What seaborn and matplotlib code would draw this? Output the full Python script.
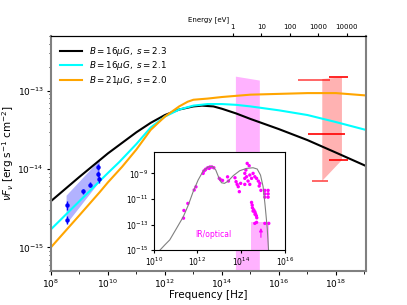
import numpy as np
import pandas as pd
import seaborn as sns
import matplotlib
matplotlib.use("Agg")
import matplotlib.pyplot as plt
from matplotlib.ticker import FixedLocator, FixedFormatter, NullLocator, NullFormatter

# model curves, log10(nu [Hz]) and log10(nuFnu)
lf_black = [8.0, 9.0, 10.0, 11.0, 11.5, 12.0, 12.5, 13.0, 13.3, 13.7, 14.0, 14.5,
            15.0, 16.0, 17.0, 18.0, 19.05]
lF_black = [-14.41, -14.1, -13.8, -13.53, -13.41, -13.31, -13.24, -13.2, -13.19, -13.2,
            -13.23, -13.29, -13.36, -13.49, -13.63, -13.79, -13.96]

lf_cyan = [8.0, 9.0, 10.0, 10.4, 11.0, 11.5, 12.0, 12.5, 13.0, 13.5, 14.0, 14.5,
           15.0, 16.0, 17.0, 18.0, 19.05]
lF_cyan = [-14.77, -14.41, -14.05, -13.91, -13.68, -13.47, -13.33, -13.24, -13.19,
           -13.17, -13.17, -13.18, -13.2, -13.25, -13.31, -13.4, -13.5]

lf_orange = [8.0, 9.0, 9.7, 10.0, 10.5, 11.0, 11.5, 12.0, 12.5, 12.8, 13.0, 13.5,
             14.0, 15.0, 16.0, 17.0, 18.0, 19.05]
lF_orange = [-15.0, -14.59, -14.3, -14.17, -13.97, -13.75, -13.5, -13.33, -13.2,
             -13.14, -13.115, -13.1, -13.08, -13.05, -13.04, -13.03, -13.03, -13.06]

labels = [r"$B = 16\mu G,\ s = 2.3$", r"$B = 16\mu G,\ s = 2.1$", r"$B = 21\mu G,\ s = 2.0$"]

# radio points
lf_radio = [8.55, 8.58, 9.13, 9.37, 9.66, 9.66, 9.69]
lF_radio = [-14.65, -14.46, -14.28, -14.2, -13.97, -14.06, -14.13]
radio_err = [0.05, 0.05, 0.03, 0.03, 0.04, 0.04, 0.04]
# radio spectral-index band (quadrilateral)
radio_band_lf = [8.55, 9.72, 9.72, 8.55]
radio_band_lF = [-14.34, -13.885, -14.16, -14.705]

# IR/optical band
opt_lf = [14.49, 15.33]
opt_top = [-12.82, -12.87]

# X-ray band
xray_band_lf = [17.52, 18.21, 18.21, 17.52]
xray_band_lF = [-12.85, -12.83, -13.885, -14.15]
# X-ray horizontal bars: (lf_lo, lf_hi, lF)
xray_lo = [16.68, 17.77, 17.03, 17.77, 17.15]
xray_hi = [17.79, 18.43, 18.32, 18.43, 17.73]
xray_val = [-12.86, -12.83, -13.55, -13.885, -14.15]
xray_alpha = [0.7, 1.0, 1.0, 1.0, 0.7]

# inset: dust + stellar SED model and data
inset_lf = [10.28, 10.5, 10.73, 11.04, 11.35, 11.58, 11.8, 12.03, 12.26, 12.49, 12.69,
            12.84, 12.98, 13.1, 13.24, 13.41, 13.64, 13.94, 14.25, 14.55, 14.74, 14.89,
            15.01, 15.1, 15.2, 15.26]
inset_lF = [-15.0, -14.6, -14.2, -13.3, -12.39, -11.48, -10.44, -9.52, -8.82, -8.5, -8.45,
            -8.74, -9.34, -9.73, -9.78, -9.6, -9.18, -8.79, -8.61, -8.56, -8.66, -9.13,
            -10.04, -11.48, -13.3, -15.0]
pts_lf = [11.38, 11.36, 11.56, 11.85, 11.93, 12.26, 12.29, 12.38, 12.47, 12.57, 12.66,
          12.75, 12.35, 12.54, 13.0, 13.06, 13.15, 13.38, 13.42, 13.72, 13.77, 13.87,
          13.92, 13.82, 13.98, 14.17, 14.22, 14.28, 14.37, 14.17, 14.25, 14.4, 14.32,
          14.17, 14.4, 14.48, 14.55, 14.63, 14.71, 14.79, 14.86, 14.83, 14.91,
          15.09, 15.09, 15.09, 15.24, 15.24, 15.24,
          14.48, 14.51, 14.52, 14.58, 14.63, 14.66, 14.7, 14.72, 14.55, 14.64,
          14.63, 14.71, 15.09, 15.27]
pts_lF = [-11.9, -12.5, -11.35, -10.3, -10.05, -9.0, -8.82, -8.67, -8.56, -8.5, -8.5,
          -8.56, -8.74, -8.61, -9.39, -9.5, -9.55, -9.27, -9.6, -9.34, -9.65, -10.04,
          -10.43, -9.86, -9.78, -9.0, -8.74, -8.22, -8.4, -9.39, -9.26, -9.13, -9.6,
          -9.86, -9.86, -9.39, -9.0, -9.26, -9.39, -9.6, -9.78, -9.99, -10.33,
          -10.33, -10.6, -10.86, -10.33, -10.6, -10.86,
          -11.27, -11.48, -11.69, -11.85, -12.0, -12.15, -12.31, -12.47, -11.95, -12.2,
          -12.91, -12.83, -12.91, -12.91]
box_lf = [14.45, 15.29]
box_top = -12.79
arrow_lf = 14.91
arrow_lF = [-14.22, -13.05]

EV_HZ = 2.418e14


def p(v):
    return 10 ** np.asarray(v, dtype=float)


def main():
    fig = plt.figure(figsize=(4.07, 3.05), dpi=100)
    ax = fig.add_axes([0.125, 0.1115, 0.774, 0.7705])

    for lf, lF, c, lab in [(lf_black, lF_black, "black", labels[0]),
                           (lf_cyan, lF_cyan, "cyan", labels[1]),
                           (lf_orange, lF_orange, "orange", labels[2])]:
        df = pd.DataFrame({"nu": p(lf), "F": p(lF)})
        sns.lineplot(data=df, x="nu", y="F", ax=ax, color=c, lw=1.5, label=lab,
                     estimator=None, sort=False)

    ax.fill(p(radio_band_lf), p(radio_band_lF), color="blue", alpha=0.3, lw=0)
    yr = p(lF_radio)
    ax.errorbar(p(lf_radio), yr, yerr=yr * (10 ** np.array(radio_err) - 1),
                fmt="o", color="blue", ms=2.2, lw=1, capsize=0)

    ax.fill_between(p(opt_lf), p(opt_top), 1e-17, color="magenta", alpha=0.3, lw=0)
    ax.fill(p(xray_band_lf), p(xray_band_lF), color="red", alpha=0.3, lw=0)
    for lo, hi, v, a in zip(xray_lo, xray_hi, xray_val, xray_alpha):
        ax.hlines(10 ** v, 10 ** lo, 10 ** hi, color="red", lw=1.2, alpha=a)

    ax.set_xscale("log")
    ax.set_yscale("log")
    ax.set_xlim(1e8, 10 ** 19.05)
    ax.set_ylim(5e-16, 5e-13)
    ax.xaxis.set_major_locator(FixedLocator([1e8, 1e10, 1e12, 1e14, 1e16, 1e18]))
    ax.xaxis.set_minor_locator(FixedLocator([1e9, 1e11, 1e13, 1e15, 1e17, 1e19]))
    ax.yaxis.set_major_locator(FixedLocator([1e-15, 1e-14, 1e-13]))
    minor_y = [m * 10.0 ** e for e in (-16, -15, -14, -13) for m in range(2, 10)
               if 5e-16 <= m * 10.0 ** e <= 5e-13]
    ax.yaxis.set_minor_locator(FixedLocator(minor_y))
    ax.xaxis.set_minor_formatter(NullFormatter())
    ax.yaxis.set_minor_formatter(NullFormatter())
    ax.tick_params(labelsize=6.5, direction="out", length=3, pad=2)
    ax.tick_params(which="minor", length=1.8)
    ax.set_xlabel("Frequency [Hz]", fontsize=7.5, labelpad=0)
    ax.set_ylabel(r"$\nu F_\nu$ [erg s$^{-1}$ cm$^{-2}$]", fontsize=7.5, labelpad=1)
    ax.legend(loc="upper left", frameon=False, fontsize=6.3, handlelength=2.6,
              borderaxespad=0.6, labelspacing=0.2)
    for s in ["left", "right", "bottom"]:
        ax.spines[s].set_color("0.5")
        ax.spines[s].set_linewidth(1.5)

    ax2 = ax.twiny()
    ax2.set_xscale("log")
    ax2.set_xlim(1e8 / EV_HZ, 10 ** 19.05 / EV_HZ)
    ax2.xaxis.set_major_locator(FixedLocator([1, 10, 100, 1000, 10000]))
    ax2.xaxis.set_major_formatter(FixedFormatter(["1", "10", "100", "1000", "10000"]))
    ax2.xaxis.set_minor_locator(NullLocator())
    ax2.tick_params(labelsize=5, length=2.5, pad=1.5)
    ax2.set_xlabel("Energy [eV]", fontsize=5, labelpad=2)
    for s in ["left", "right", "bottom"]:
        ax2.spines[s].set_visible(False)

    # inset
    ins = fig.add_axes([0.378, 0.18, 0.3215, 0.3207])
    sns.lineplot(x=p(inset_lf), y=p(inset_lF), ax=ins, color="gray", lw=0.8,
                 estimator=None, sort=False)
    sns.scatterplot(x=p(pts_lf), y=p(pts_lF), ax=ins, color="magenta", s=6,
                    edgecolor="none")
    ins.fill_between(p(box_lf), 10 ** box_top, 1e-16, color="magenta", alpha=0.3, lw=0)
    ins.annotate("", xy=(10 ** arrow_lf, 10 ** arrow_lF[1]),
                 xytext=(10 ** arrow_lf, 10 ** arrow_lF[0]),
                 arrowprops=dict(arrowstyle="-|>", color="magenta", lw=0.8,
                                 mutation_scale=5))
    ins.text(10 ** 12.75, 10 ** -13.77, "IR/optical", color="magenta", fontsize=5.5,
             ha="center", va="center")
    ins.set_xscale("log")
    ins.set_yscale("log")
    ins.set_xlim(1e10, 1e16)
    ins.set_ylim(1e-15, 10 ** -7.35)
    ins.xaxis.set_major_locator(FixedLocator([1e10, 1e12, 1e14, 1e16]))
    ins.yaxis.set_major_locator(FixedLocator([1e-15, 1e-13, 1e-11, 1e-9]))
    ins.xaxis.set_minor_locator(NullLocator())
    ins.yaxis.set_minor_locator(NullLocator())
    ins.tick_params(labelsize=5.5, length=2.5, pad=1.5)

    fig.savefig("out.png", dpi=100)


if __name__ == '__main__':
    main()
